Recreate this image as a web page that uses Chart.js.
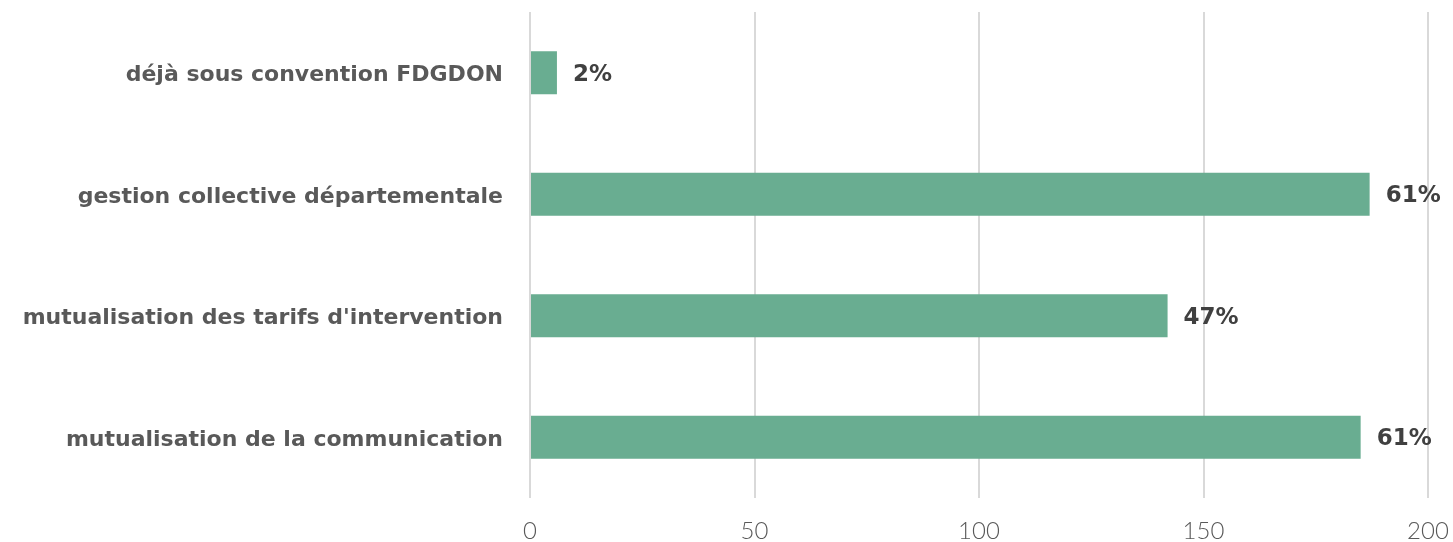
<!DOCTYPE html>
<html>
<head>
<meta charset="utf-8">
<script src="https://cdn.jsdelivr.net/npm/chart.js@4/dist/chart.umd.min.js"></script>
<style>
  html, body { margin: 0; padding: 0; background: #fff; }
  #wrap { width: 1453px; height: 542px; }
</style>
</head>
<body>
<div id="wrap"><canvas id="chart"></canvas></div>
<script>
var categories = [
    "déjà sous convention FDGDON",
    "gestion collective départementale",
    "mutualisation des tarifs d'intervention",
    "mutualisation de la communication"
];
var counts = [6, 187, 142, 185];
var percentLabels = ["2%", "61%", "47%", "61%"];
var xTicks = [0, 50, 100, 150, 200];

// draws the percentage next to each bar
var barLabels = {
    id: 'barLabels',
    afterDatasetsDraw: function (chart) {
        var ctx = chart.ctx;
        var meta = chart.getDatasetMeta(0);
        ctx.save();
        ctx.font = 'bold 23px "DejaVu Sans", sans-serif';
        ctx.fillStyle = '#404040';
        ctx.textAlign = 'left';
        ctx.textBaseline = 'middle';
        meta.data.forEach(function (bar, i) {
            ctx.fillText(percentLabels[i], bar.x + 16, bar.y + 2);
        });
        ctx.restore();
    }
};

var ctx = document.getElementById('chart').getContext('2d');
new Chart(ctx, {
    type: 'bar',
    data: {
        labels: categories,
        datasets: [{
            data: counts,
            backgroundColor: '#69ad91',
            barPercentage: 0.355,
            categoryPercentage: 1
        }]
    },
    options: {
        indexAxis: 'y',
        responsive: true,
        maintainAspectRatio: false,
        animation: false,
        layout: { padding: { top: 12, right: 25, left: 0, bottom: 0 } },
        plugins: {
            legend: { display: false },
            tooltip: { enabled: false }
        },
        scales: {
            x: {
                min: 0,
                max: 200,
                afterBuildTicks: function (axis) {
                    axis.ticks = xTicks.map(function (v) { return { value: v }; });
                },
                afterFit: function (axis) {
                    axis.height = 44;
                    axis.paddingLeft = 0;
                    axis.paddingRight = 0;
                },
                grid: { color: '#d9d9d9', lineWidth: 2, drawTicks: false },
                border: { display: false },
                ticks: {
                    color: '#595959',
                    padding: 19,
                    font: { family: 'Lato, "Open Sans", sans-serif', size: 24, weight: '300' }
                }
            },
            y: {
                afterFit: function (axis) {
                    axis.width = 530;
                    axis.paddingTop = 0;
                    axis.paddingBottom = 0;
                },
                grid: { display: false, drawTicks: false },
                border: { display: false },
                ticks: {
                    color: '#595959',
                    padding: 27,
                    labelOffset: 3,
                    font: { family: '"DejaVu Sans", sans-serif', size: 22, weight: 'bold' }
                }
            }
        }
    },
    plugins: [barLabels]
});
</script>
</body>
</html>
